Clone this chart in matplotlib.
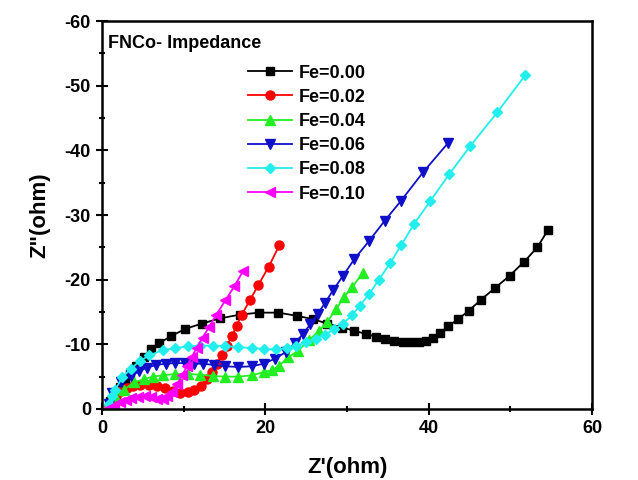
import numpy as np
import matplotlib
matplotlib.use('Agg')
import matplotlib.pyplot as plt
from matplotlib.ticker import MultipleLocator

plt.rcParams['font.family'] = ['Liberation Sans', 'DejaVu Sans']
plt.rcParams['font.weight'] = 'bold'
plt.rcParams['axes.unicode_minus'] = False

# Z' and -Z'' for each Fe content
x_000 = [1.0, 1.6, 2.2, 2.8, 3.4, 4.2, 5.1, 6.0, 7.0, 8.5, 10.2, 12.2, 14.4, 16.9, 19.2, 21.6,
         23.9, 25.8, 27.6, 29.4, 30.9, 32.3, 33.5, 34.7, 35.8, 36.8, 37.8, 38.8, 39.7, 40.5,
         41.4, 42.4, 43.6, 44.9, 46.4, 48.1, 49.9, 51.7, 53.3, 54.6]
y_000 = [1.2, 2.4, 3.4, 4.4, 5.6, 6.7, 8.0, 9.2, 10.2, 11.3, 12.4, 13.2, 14.0, 14.6, 14.9, 14.9,
         14.4, 13.9, 13.2, 12.6, 12.1, 11.6, 11.2, 10.8, 10.5, 10.4, 10.4, 10.4, 10.5, 11.0,
         11.8, 12.8, 13.9, 15.2, 16.9, 18.7, 20.6, 22.8, 25.0, 27.7]

x_002 = [0.9, 1.2, 1.7, 2.3, 3.0, 3.8, 4.7, 5.7, 6.7, 7.7, 8.7, 9.6, 10.5, 11.3, 12.1, 12.9,
         13.5, 14.1, 14.7, 15.3, 15.9, 16.5, 17.1, 18.1, 19.1, 20.4, 21.7]
y_002 = [0.4, 1.2, 2.0, 2.8, 3.3, 3.6, 3.7, 3.7, 3.6, 3.3, 2.8, 2.5, 2.6, 3.0, 3.6, 4.6,
         5.7, 7.0, 8.3, 9.8, 11.3, 12.9, 14.6, 16.8, 19.1, 22.0, 25.3]

x_004 = [0.9, 1.6, 2.7, 3.9, 5.1, 6.2, 7.4, 8.9, 10.5, 12.0, 13.6, 15.1, 16.7, 18.3, 19.8,
         20.8, 21.7, 22.8, 24.0, 25.3, 26.6, 27.5, 28.7, 29.6, 30.6, 31.9]
y_004 = [0.8, 2.0, 3.0, 4.1, 4.6, 5.0, 5.2, 5.4, 5.4, 5.3, 5.1, 5.0, 5.0, 5.2, 5.7,
         6.0, 6.7, 8.0, 9.0, 10.6, 12.1, 13.4, 15.5, 17.3, 18.8, 21.0]

x_006 = [0.8, 1.2, 2.3, 3.5, 4.5, 5.5, 6.6, 7.8, 8.9, 10.1, 11.3, 12.4, 13.7, 15.1, 16.7,
         18.3, 19.8, 21.2, 22.5, 23.6, 24.6, 25.5, 26.4, 27.3, 28.3, 29.5, 30.9, 32.7, 34.6,
         36.6, 39.3, 42.4]
y_006 = [0.8, 2.5, 4.1, 5.1, 5.8, 6.4, 6.8, 7.0, 7.1, 7.1, 7.0, 7.0, 6.8, 6.6, 6.5,
         6.6, 7.0, 7.8, 8.8, 10.2, 11.6, 13.1, 14.7, 16.4, 18.4, 20.6, 23.2, 26.0, 29.1,
         32.2, 36.6, 41.2]

x_008 = [0.8, 1.2, 1.6, 2.5, 3.5, 4.6, 5.8, 7.4, 8.9, 10.5, 12.0, 13.6, 15.1, 16.7, 18.3,
         19.8, 21.3, 22.6, 23.8, 25.0, 26.2, 27.3, 28.4, 29.5, 30.6, 31.6, 32.7, 33.9, 35.3,
         36.6, 38.2, 40.2, 42.5, 45.1, 48.4, 51.8]
y_008 = [0.8, 2.0, 3.0, 4.9, 6.2, 7.4, 8.3, 9.1, 9.4, 9.7, 9.8, 9.8, 9.7, 9.6, 9.4,
         9.3, 9.2, 9.4, 9.8, 10.3, 10.9, 11.5, 12.3, 13.2, 14.5, 16.0, 17.8, 20.0, 22.6,
         25.3, 28.6, 32.2, 36.3, 40.7, 45.9, 51.6]

x_010 = [0.8, 1.5, 2.2, 2.9, 3.6, 4.4, 5.2, 6.0, 6.7, 7.4, 8.0, 8.6, 9.2, 9.8, 10.4,
         11.0, 11.6, 12.3, 13.1, 14.0, 15.1, 16.2, 17.3]
y_010 = [0.1, 0.5, 1.0, 1.4, 1.7, 1.9, 2.0, 1.9, 1.6, 1.6, 2.0, 2.7, 3.8, 5.2, 6.6,
         8.1, 9.5, 11.0, 12.7, 14.6, 16.8, 19.0, 21.4]

labels = ['Fe=0.00', 'Fe=0.02', 'Fe=0.04', 'Fe=0.06', 'Fe=0.08', 'Fe=0.10']
xs = [x_000, x_002, x_004, x_006, x_008, x_010]
ys = [y_000, y_002, y_004, y_006, y_008, y_010]
colors = ['black', '#ff0000', '#22ee22', '#1010c8', '#22eeee', '#ff00ff']
markers = ['s', 'o', '^', 'v', 'D', '<']
msizes = [5.5, 6.5, 6.5, 6.5, 5, 6.5]

fig = plt.figure(figsize=(6.38, 4.8), dpi=100)
ax = fig.add_axes([0.16, 0.148, 0.768, 0.808])

for x, y, c, m, ms, lab in zip(xs, ys, colors, markers, msizes, labels):
    ax.plot(x, -np.array(y), color=c, marker=m, markersize=ms, lw=1.3, label=lab)

ax.set_xlim(0, 60)
ax.set_ylim(0, -60)
ax.xaxis.set_major_locator(MultipleLocator(20))
ax.xaxis.set_minor_locator(MultipleLocator(10))
ax.yaxis.set_major_locator(MultipleLocator(10))
ax.yaxis.set_minor_locator(MultipleLocator(5))
ax.tick_params(which='major', direction='inout', length=9, width=1.5, labelsize=13)
ax.tick_params(which='minor', direction='inout', length=5, width=1.5)
for sp in ax.spines.values():
    sp.set_linewidth(1.8)

ax.set_xlabel("Z'(ohm)", fontsize=16, fontweight='bold', labelpad=14)
ax.set_ylabel('Z"(ohm)', fontsize=16, fontweight='bold', labelpad=10)
ax.text(0.012, 0.963, 'FNCo- Impedance', transform=ax.transAxes, fontsize=13,
        fontweight='bold', va='top', ha='left')

ax.legend(loc='upper left', bbox_to_anchor=(0.265, 0.93), frameon=False, fontsize=13,
          handlelength=2.4, labelspacing=0.4, handletextpad=0.4)

fig.savefig('out.png', dpi=100)
